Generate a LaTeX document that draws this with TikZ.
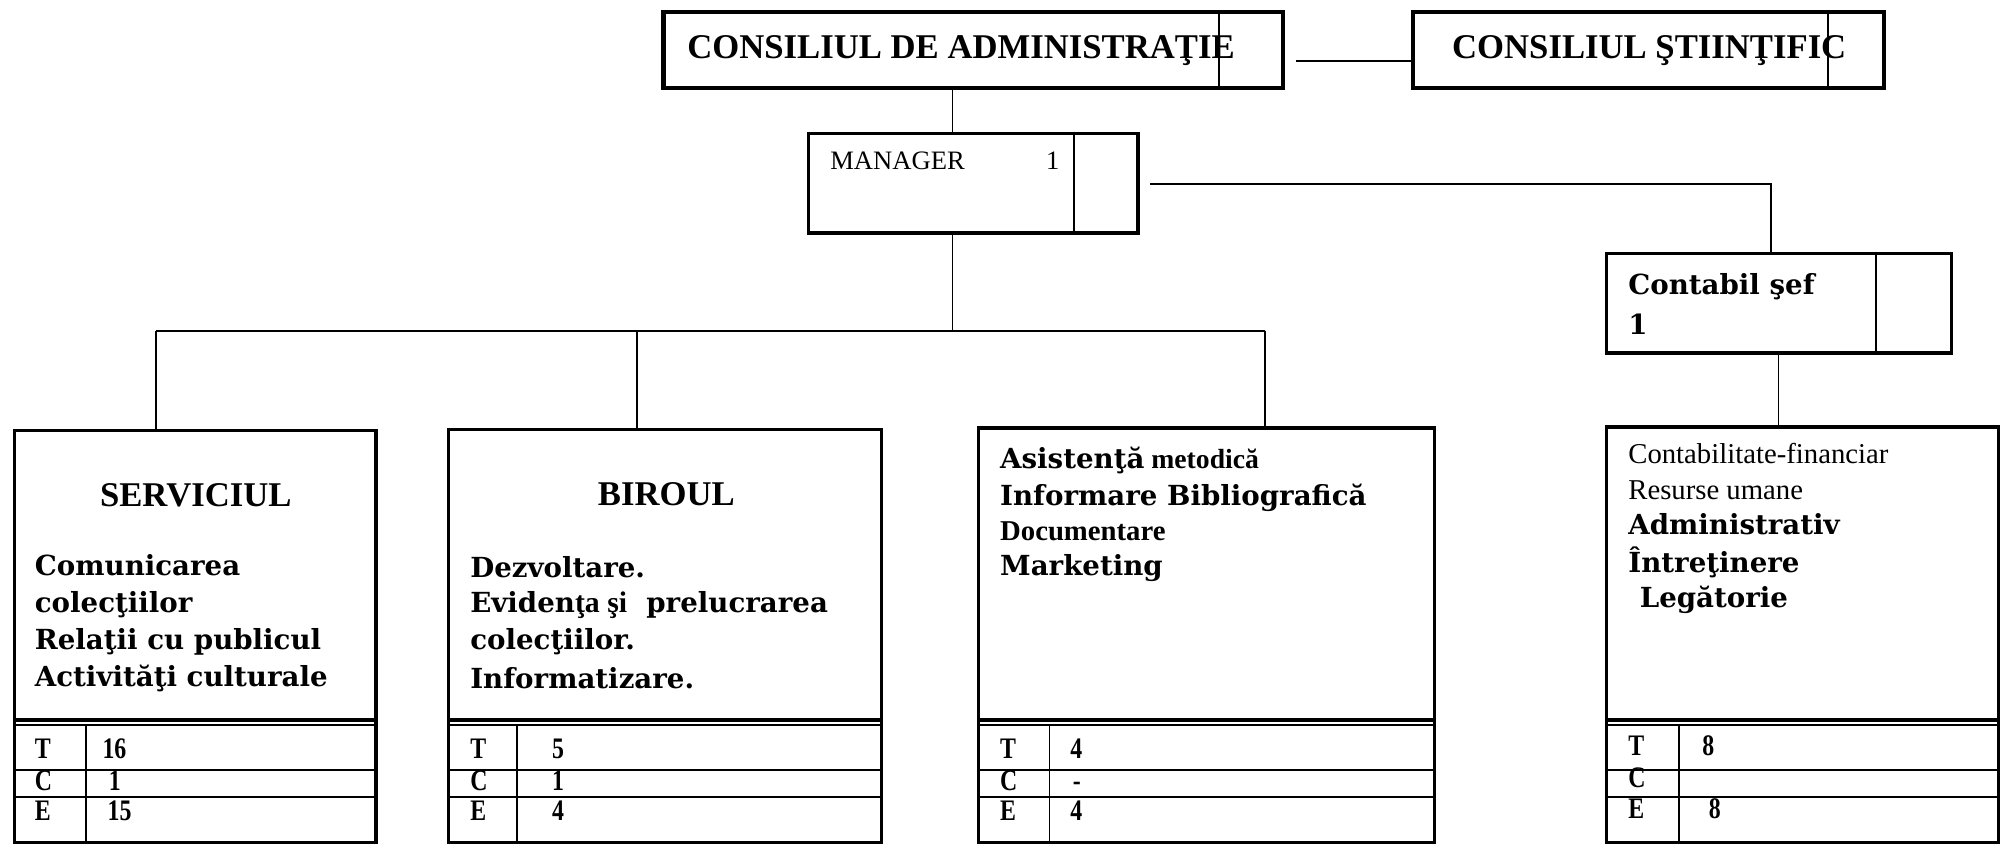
\documentclass[tikz,border=0pt]{standalone}
\usepackage{fontspec}
\usepackage{graphicx}
\setmainfont{Liberation Serif}
\newfontfamily\wideserif{DejaVu Serif}
\usetikzlibrary{calc}
\newcommand{\tcell}[1]{\scalebox{0.8}[1]{#1}}
\begin{document}
\begin{tikzpicture}[x=0.6pt,y=-0.6pt,
  bigbox/.style={draw, line width=2pt, inner sep=0pt, anchor=north west},
  deptbox/.style={draw, line width=1.6pt, inner sep=0pt, anchor=north west},
  lbl/.style={inner sep=0pt, anchor=base west},
  conn/.style={line width=0.8pt},
  divider/.style={line width=0.9pt},
  heavy/.style={line width=1.6pt},
  hd/.style={font=\bfseries\fontsize{16.3}{18}\selectfont},
  wb/.style={font=\wideserif\bfseries\fontsize{13}{16}\selectfont},
  tb/.style={font=\bfseries\fontsize{13.5}{16}\selectfont},
  rg/.style={font=\fontsize{13.5}{16}\selectfont},
  tbl/.style={font=\bfseries\fontsize{14}{16}\selectfont},
]
\useasboundingbox (0,0) rectangle (1568,661);

% ---- top boxes
\node[bigbox, minimum width=291pt, minimum height=35.4pt] (ca) at (518,8) {};
\node[bigbox, minimum width=221.4pt, minimum height=35.4pt] (cs) at (1105,8) {};
\node[deptbox, minimum width=154.8pt, minimum height=46.8pt] (mgr) at (632,103) {};
\node[deptbox, minimum width=162pt, minimum height=46.8pt] (cont) at (1257,197) {};
\draw[divider] (955,8) -- (955,67);
\draw[divider] (1432,8) -- (1432,67);
\draw[divider] (841,103) -- (841,181);
\draw[divider] (1469,197) -- (1469,275);

\node[lbl,hd] (catext) at (538,46) {CONSILIUL DE ADMINISTRAŢIE};
\node[lbl,hd] (cstext) at (1137,46) {CONSILIUL ŞTIINŢIFIC};
\node[lbl,font=\fontsize{12.5}{14}\selectfont] (mgrtext) at (650,133) {MANAGER};
\node[lbl,font=\fontsize{12.5}{14}\selectfont] (mgrnum) at (819,133) {1};
\node[lbl,wb] (conttext) at (1275,231) {Contabil şef};
\node[lbl,wb] (contnum) at (1275,262) {1};

% ---- department boxes
\node[deptbox, minimum width=169.8pt, minimum height=193.8pt] (b1) at (10,336) {};
\node[deptbox, minimum width=203.4pt, minimum height=194.4pt] (b2) at (350,335) {};
\node[deptbox, minimum width=214.2pt, minimum height=195pt] (b3) at (765,334) {};
\node[deptbox, minimum width=184.2pt, minimum height=195.6pt] (b4) at (1257,333) {};

\coordinate (rA) at (0,564);
\coordinate (rB) at (0,568);
\coordinate (rC) at (0,603);
\coordinate (rD) at (0,624);
\foreach \b/\c in {b1/67,b2/405,b3/822,b4/1315}{
  \draw[heavy] (\b.west |- rA) -- (\b.east |- rA);
  \draw[divider] (\b.west |- rB) -- (\b.east |- rB);
  \draw[divider] (\b.west |- rC) -- (\b.east |- rC);
  \draw[divider] (\b.west |- rD) -- (\b.east |- rD);
  \draw[divider] (\c,568) -- (\c,659);
}

% ---- connectors
\coordinate (v) at (746,0);
\coordinate (hA) at (0,48);
\coordinate (hB) at (0,144);
\coordinate (busL) at (122,259);
\coordinate (busM) at (499,259);
\coordinate (busC) at (746,259);
\coordinate (busR) at (991,259);
\coordinate (cv) at (1387,0);
\coordinate (cv2) at (1393,0);
\draw[conn] ($(ca.east |- hA)+(9,0)$) -- (cs.west |- hA);
\draw[conn] (ca.south -| v) -- (mgr.north -| v);
\draw[conn] (mgr.south -| v) -- (busC);
\draw[conn] (busL) -- (busR);
\draw[conn] (busL) -- (busL |- b1.north);
\draw[conn] (busM) -- (busM |- b2.north);
\draw[conn] (busR) -- (busR |- b3.north);
\draw[conn] ($(mgr.east |- hB)+(8,0)$) -- (cv |- hB) -- (cv |- cont.north);
\draw[conn] (cv2 |- cont.south) -- (cv2 |- b4.north);

% ---- box 1
\node[lbl,hd] (b1h) at (78,397) {SERVICIUL};
\node[lbl,wb] (b1a) at (27,451) {Comunicarea};
\node[lbl,wb] (b1b) at (27,480) {colecţiilor};
\node[lbl,wb] (b1c) at (27,509) {Relaţii cu publicul};
\node[lbl,wb] (b1d) at (27,538) {Activităţi culturale};
\node[lbl,tbl] (b1T) at (27,594) {\tcell{T}};
\node[lbl,tbl] (b1C) at (27,619) {\tcell{C}};
\node[lbl,tbl] (b1E) at (27,643) {\tcell{E}};
\node[lbl,tbl] (b1Tv) at (80,594) {\tcell{16}};
\node[lbl,tbl] (b1Cv) at (85,619) {\tcell{1}};
\node[lbl,tbl] (b1Ev) at (84,643) {\tcell{15}};

% ---- box 2
\node[lbl,hd] (b2h) at (468,396) {BIROUL};
\node[lbl,wb] (b2a) at (368,452) {Dezvoltare.};
\node[lbl,wb] (b2b) at (368,480) {Eviden{\bfseries\fontsize{14}{16}\selectfont\rmfamily ţa şi}\ \ prelucrarea};
\node[lbl,wb] (b2c) at (368,509) {colecţiilor.};
\node[lbl,wb] (b2d) at (368,539) {Informatizare.};
\node[lbl,tbl] (b2T) at (368,594) {\tcell{T}};
\node[lbl,tbl] (b2C) at (368,619) {\tcell{C}};
\node[lbl,tbl] (b2E) at (368,643) {\tcell{E}};
\node[lbl,tbl] (b2Tv) at (432,594) {\tcell{5}};
\node[lbl,tbl] (b2Cv) at (432,619) {\tcell{1}};
\node[lbl,tbl] (b2Ev) at (432,643) {\tcell{4}};

% ---- box 3
\node[lbl,wb] (b3a) at (783,367) {Asistenţă{\rmfamily\bfseries\fontsize{13}{16}\selectfont{} metodică}};
\node[lbl,wb] (b3b) at (783,396) {Informare Bibliografică};
\node[lbl,tb] (b3c) at (783,423) {Documentare};
\node[lbl,wb] (b3d) at (783,451) {Marketing};
\node[lbl,tbl] (b3T) at (783,594) {\tcell{T}};
\node[lbl,tbl] (b3C) at (783,619) {\tcell{C}};
\node[lbl,tbl] (b3E) at (783,643) {\tcell{E}};
\node[lbl,tbl] (b3Tv) at (838,594) {\tcell{4}};
\node[lbl,tbl] (b3Cv) at (840,619) {\tcell{-}};
\node[lbl,tbl] (b3Ev) at (838,643) {\tcell{4}};

% ---- box 4
\node[lbl,rg] (b4a) at (1275,363) {Contabilitate-financiar};
\node[lbl,rg] (b4b) at (1275,391) {Resurse umane};
\node[lbl,wb] (b4c) at (1275,419) {Administrativ};
\node[lbl,wb] (b4d) at (1275,448) {Întreţinere};
\node[lbl,wb] (b4e) at (1284,476) {Legătorie};
\node[lbl,tbl] (b4T) at (1275,592) {\tcell{T}};
\node[lbl,tbl] (b4C) at (1275,617) {\tcell{C}};
\node[lbl,tbl] (b4E) at (1275,641) {\tcell{E}};
\node[lbl,tbl] (b4Tv) at (1333,592) {\tcell{8}};
\node[lbl,tbl] (b4Ev) at (1338,641) {\tcell{8}};
\end{tikzpicture}
\end{document}
